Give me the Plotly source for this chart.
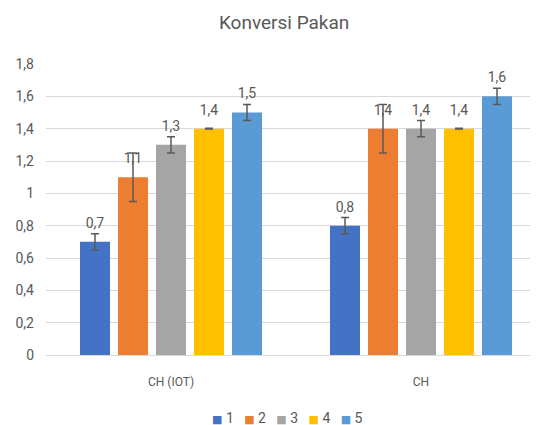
import plotly.graph_objects as go

categories = ["CH (IOT)", "CH"]
series_names = ["1", "2", "3", "4", "5"]
values = [
    [0.7, 0.8],
    [1.1, 1.4],
    [1.3, 1.4],
    [1.4, 1.4],
    [1.5, 1.6],
]
errors = [
    [0.05, 0.05],
    [0.15, 0.15],
    [0.05, 0.05],
    [0.002, 0.002],
    [0.05, 0.05],
]
colors = ["#4472C4", "#ED7D31", "#A5A5A5", "#FFC000", "#5B9BD5"]
y_ticks = [0, 0.2, 0.4, 0.6, 0.8, 1.0, 1.2, 1.4, 1.6, 1.8]

def fmt(v):
    return ("%g" % v).replace(".", ",")

FONT = "Roboto, Arial"
TXT = "#595959"

fig = go.Figure()
for name, vals, errs, col in zip(series_names, values, errors, colors):
    fig.add_trace(go.Bar(
        name=name, x=categories, y=vals, marker_color=col,
        marker_line_width=0, showlegend=False,
        text=["<span style='font-size:14px'>" + fmt(v) + "</span><br> " for v in vals],
        textposition="outside", cliponaxis=False,
        textfont=dict(family=FONT, size=7, color=TXT),
        error_y=dict(type="data", array=errs, visible=True,
                     color="#595959", thickness=1.5, width=4),
    ))

# compact legend (Excel style) built from the series names and colours
legend_text = "&nbsp;&nbsp;&nbsp;".join(
    "<span style='color:%s;font-size:11px;font-family:DejaVu Sans'>■</span>&nbsp;%s" % (c, n)
    for n, c in zip(series_names, colors)
)
fig.add_annotation(
    text=legend_text, xref="paper", yref="paper", x=0.49, y=-0.2165,
    xanchor="center", yanchor="middle", showarrow=False,
    font=dict(family=FONT, size=14, color=TXT),
)

fig.update_layout(
    width=530, height=417,
    paper_bgcolor="white", plot_bgcolor="white",
    margin=dict(l=38, r=0, t=56, b=70, autoexpand=False),
    barmode="group", bargap=0.24, bargroupgap=0.21,
    showlegend=False,
    title=dict(text="Konversi Pakan", xref="container", x=0.521, xanchor="center",
               yref="container", y=0.966, yanchor="middle",
               font=dict(family=FONT, size=19, color=TXT)),
    font=dict(family=FONT, size=13, color=TXT),
    xaxis=dict(range=[-0.5, 1.468], showgrid=False, showline=False, ticks="",
               automargin=False, ticklabelstandoff=18,
               tickfont=dict(family=FONT, size=12, color=TXT)),
    yaxis=dict(range=[0, 1.8], tickvals=y_ticks, ticktext=[fmt(v) for v in y_ticks],
               showgrid=True, gridcolor="#D9D9D9", gridwidth=1, zeroline=True,
               zerolinecolor="#D9D9D9", zerolinewidth=1, showline=False, ticks="",
               automargin=False,
               tickfont=dict(family=FONT, size=14, color=TXT), ticklabelstandoff=11),
)

fig.write_html("out.html")
